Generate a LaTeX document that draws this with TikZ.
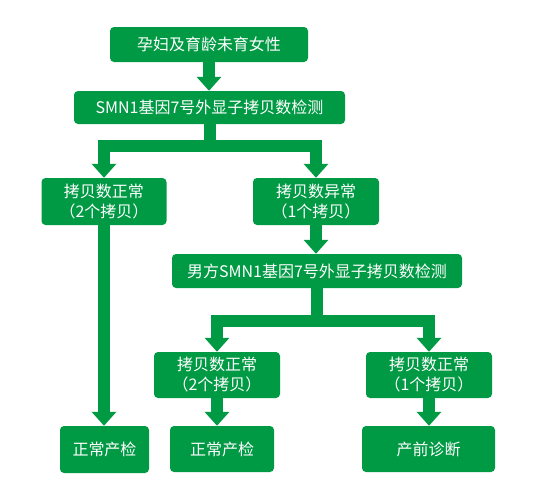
\documentclass[tikz,border=0pt]{standalone}
\usepackage{fontspec}
\newfontfamily\cjk{Noto Sans CJK SC}
\usetikzlibrary{arrows.meta}
\definecolor{flowgreen}{RGB}{0,153,68}
\tikzset{
  box/.style={fill=flowgreen, rounded corners=4pt, text=white, align=center,
    inner sep=0pt, font=\cjk\fontsize{16}{20}\selectfont},
  flow/.style={draw=flowgreen, line width=12pt, line join=miter,
    -{Triangle[width=24pt, length=14pt]}}
}
\begin{document}
\begin{tikzpicture}[x=1pt,y=-1pt]
\useasboundingbox (0,0) rectangle (558,491);
\node[box, minimum width=198pt, minimum height=35pt] (b1) at (209,44.5) {孕妇及育龄未育女性};
\node[box, minimum width=271pt, minimum height=33pt] (b2) at (209.5,107.5) {SMN1基因7号外显子拷贝数检测};
\node[box, minimum width=125pt, minimum height=47pt] (b3) at (104,201.5) {拷贝数正常\\（2个拷贝）};
\node[box, minimum width=126pt, minimum height=47pt] (b4) at (316,201.5) {拷贝数异常\\（1个拷贝）};
\node[box, minimum width=290pt, minimum height=34pt] (b5) at (317,271) {男方SMN1基因7号外显子拷贝数检测};
\node[box, minimum width=126pt, minimum height=46pt] (b6) at (217,375) {拷贝数正常\\（2个拷贝）};
\node[box, minimum width=126pt, minimum height=46pt] (b7) at (429,375) {拷贝数正常\\（1个拷贝）};
\node[box, minimum width=89pt, minimum height=47pt] (b8) at (104.5,449.5) {正常产检};
\node[box, minimum width=104pt, minimum height=46pt] (b9) at (222,449) {正常产检};
\node[box, minimum width=133pt, minimum height=46pt] (b10) at (428.5,449) {产前诊断};
\coordinate (j1) at (209.5,146);
\coordinate (j2) at (317,320.5);
\draw[flow] (b1.south) -- (b1.south |- b2.north);
\draw[flow] (b2.south) -- (j1) -| (b3.north);
\draw[flow] (j1) -| (b4.north);
\draw[flow] (b3.south) -- (b3.south |- b8.north);
\draw[flow] (b4.south) -- (b4.south |- b5.north);
\draw[flow] (b5.south) -- (j2) -| (b6.north);
\draw[flow] (j2) -| (b7.north);
\draw[flow] (b6.south) -- (b6.south |- b9.north);
\draw[flow] (b7.south) -- (b7.south |- b10.north);
\end{tikzpicture}
\end{document}
